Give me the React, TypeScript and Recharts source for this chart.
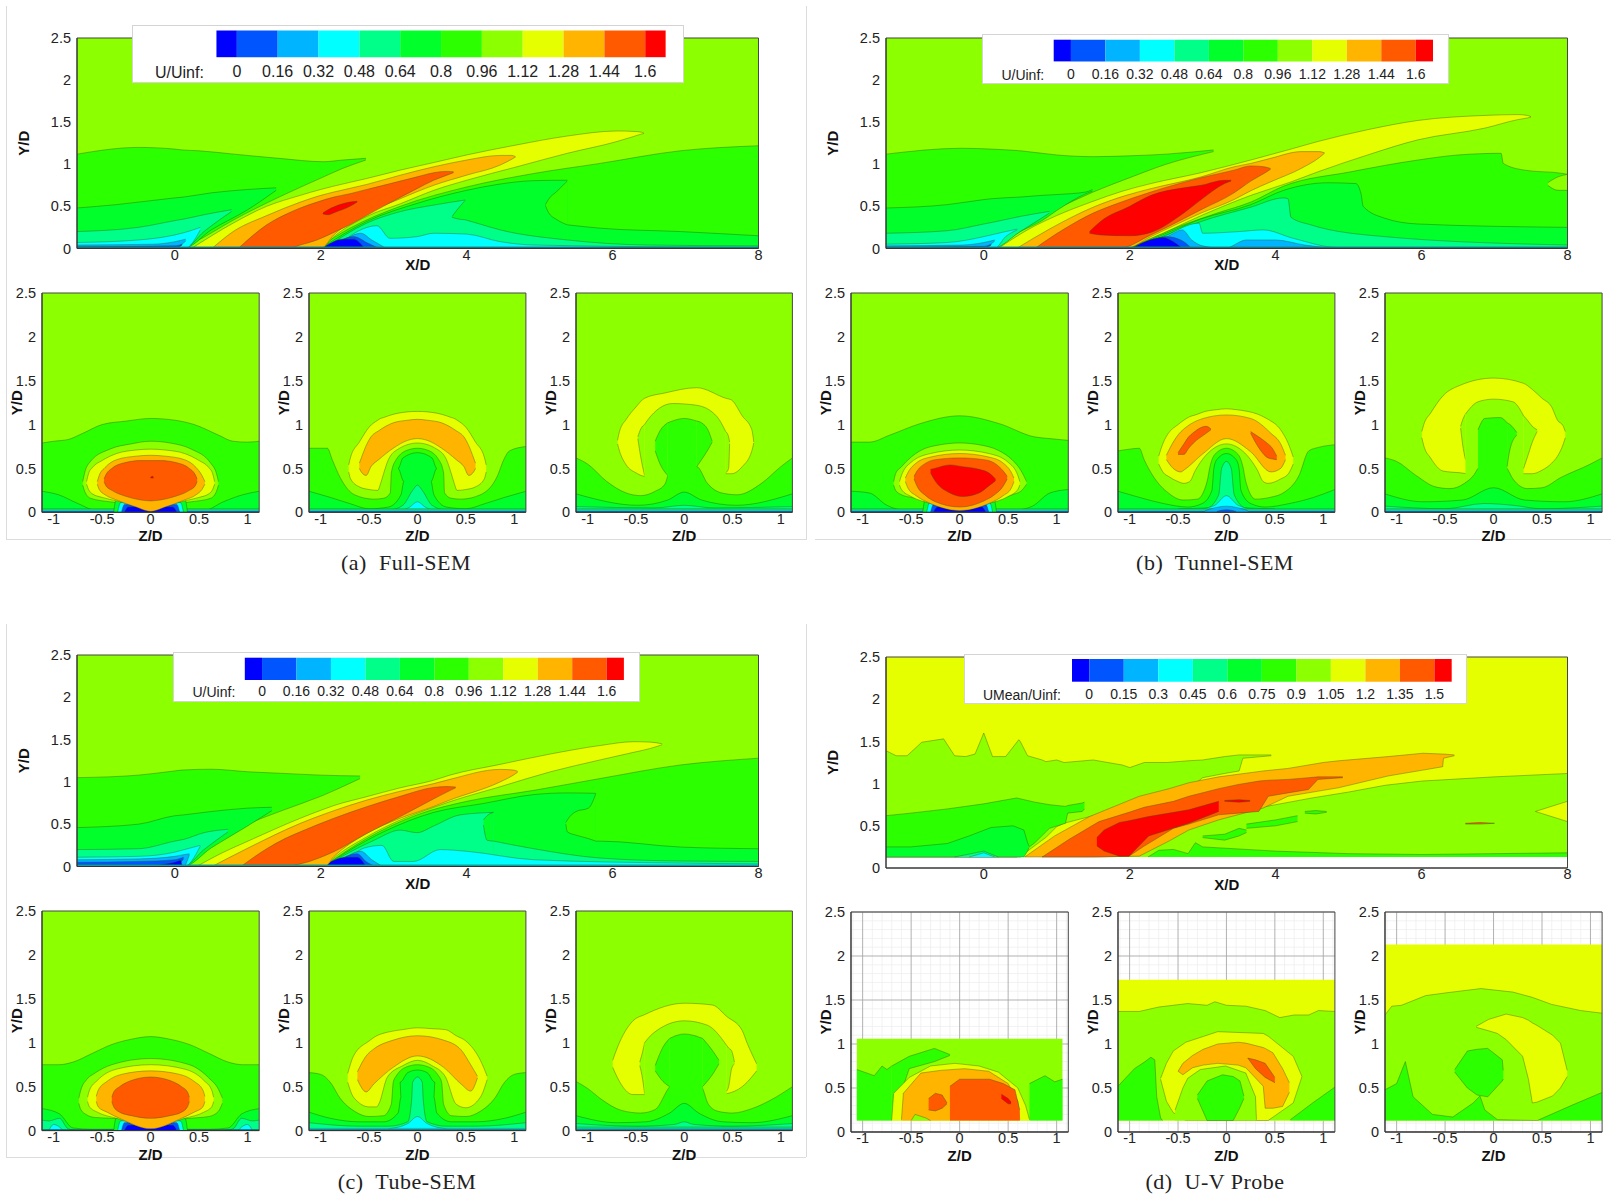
import { AreaChart, Area, XAxis, YAxis, CartesianGrid, ReferenceArea } from "recharts";

type Pt = [number, number] | [number, number, number];
type Band = { level: number; pts: Pt[] };
const B = (level: number, pts: Pt[]): Band => ({ level, pts });

const bandColors = ["#0000ff", "#0055ff", "#00b4ff", "#00ffff", "#00ff88", "#00ff2b", "#2bff00", "#8cff00", "#e6ff00", "#ffb400", "#ff5a00", "#ff0000"];
const uLevels = [0, 0.16, 0.32, 0.48, 0.64, 0.8, 0.96, 1.12, 1.28, 1.44, 1.6];
const meanLevels = [0, 0.15, 0.3, 0.45, 0.6, 0.75, 0.9, 1.05, 1.2, 1.35, 1.5];

const xTicks = [0, 2, 4, 6, 8];
const xMinor = [-1.2, -0.8, -0.4, 0.4, 0.8, 1.2, 1.6, 2.4, 2.8, 3.2, 3.6, 4.4, 4.8, 5.2, 5.6, 6.4, 6.8, 7.2, 7.6];
const zTicks = [-1, -0.5, 0, 0.5, 1];
const zMinor = [-1.1, -0.9, -0.8, -0.7, -0.6, -0.4, -0.3, -0.2, -0.1, 0.1, 0.2, 0.3, 0.4, 0.6, 0.7, 0.8, 0.9, 1.1];
const yTicks = [0, 0.5, 1, 1.5, 2, 2.5];
const yMinor = [0.1, 0.2, 0.3, 0.4, 0.6, 0.7, 0.8, 0.9, 1.1, 1.2, 1.3, 1.4, 1.6, 1.7, 1.8, 1.9, 2.1, 2.2, 2.3, 2.4];

const floorMain: Band[] = [B(3, [[-1.34, 0.02], [8, 0.02]]), B(1, [[-1.34, 0.01], [8, 0.01]])];
const floorSide: Band[] = [B(4, [[-1.12, 0.04], [1.12, 0.04]]), B(3, [[-1.12, 0.025], [1.12, 0.025]]), B(1, [[-1.12, 0.012], [1.12, 0.012]])];
const wedge: Band[] = [
  B(5, [[-0.38, 0], [-0.36, 0.13], [-0.3, 0.16], [0, 0.16], [0.3, 0.16], [0.36, 0.13], [0.38, 0]]),
  B(3, [[-0.34, 0], [-0.31, 0.11], [0, 0.13], [0.31, 0.11], [0.34, 0]]),
  B(1, [[-0.3, 0], [-0.27, 0.09], [0, 0.1], [0.27, 0.09], [0.3, 0]]),
  B(0, [[-0.27, 0], [-0.23, 0.06], [0, 0.07], [0.23, 0.06], [0.27, 0]]),
];

const fullMain: Band[] = [
  B(7, [[-1.34, 2.5], [8, 2.5]]),
  B(6, [[-1.34, 1.12], [-0.5, 1.2], [0, 1.18], [0.1, 0, 1.17], [0.33, 0.1, 1.16], [0.81, 0.34, 1.12], [1.43, 0.61, 1.07], [2.04, 0.85, 1.03], [2.3, 0.95, 1.05], [2.62, 1.05, 1.07]]),
  B(5, [[-1.34, 0.48], [-0.8, 0.52], [0, 0.6], [0.12, 0, 0.61], [0.5, 0.22, 0.66], [1, 0.46, 0.7], [1.39, 0.69, 0.72]]),
  B(4, [[-1.34, 0.2], [-0.5, 0.25], [0, 0.33], [0.13, 0, 0.35], [0.4, 0.2, 0.4], [0.78, 0.44, 0.46]]),
  B(3, [[-1.34, 0.07], [-0.5, 0.1], [0, 0.16], [0.14, 0, 0.19], [0.35, 0.22, 0.25]]),
  B(2, [[-1.34, 0.04], [-0.3, 0.05], [0, 0.08], [0.15, 0.09, 0.11]]),
  B(1, [[-1.34, 0.02], [0, 0.03], [0.1, 0.04, 0.05]]),
  B(6, [[1.95, 0], [2.4, 0.24], [3.09, 0.5], [4, 0.73], [4.92, 0.89], [5.83, 1.01], [6.93, 1.16], [8, 1.22]]),
  B(5, [[2, 0], [2.63, 0.32], [3.32, 0.535], [4, 0.69], [4.46, 0.765], [4.92, 0.805], [5.38, 0.81]]),
  B(5, [[5.38, 0.28], [5.83, 0.24], [6.93, 0.2], [8, 0.15]]),
  B(6, [[5.08, 0.51, 0.52], [5.12, 0.43, 0.58], [5.24, 0.34, 0.68], [5.38, 0.28, 0.8]]),
  B(4, [[2.05, 0], [2.63, 0.3], [3.09, 0.437], [3.55, 0.515], [3.98, 0.575]]),
  B(4, [[3.98, 0.34], [4.14, 0.3], [4.46, 0.22], [5.38, 0.1], [6.47, 0.04], [8, 0.03]]),
  B(5, [[3.8, 0.37, 0.38], [3.88, 0.35, 0.47], [3.98, 0.34, 0.57]]),
  B(3, [[2.2, 0], [2.5, 0.2], [2.77, 0.27], [2.95, 0.12], [3.32, 0.14], [3.55, 0.18], [4, 0.17], [4.46, 0.08], [4.92, 0.04], [8, 0.01]]),
  B(2, [[2.2, 0], [2.55, 0.18], [2.7, 0.1], [2.9, 0]]),
  B(1, [[2.1, 0], [2.45, 0.14], [2.65, 0.06], [2.8, 0]]),
  B(0, [[2.02, 0], [2.3, 0.11], [2.45, 0.11], [2.6, 0]]),
  B(8, [[0.23, 0, 0], [0.8, 0, 0.3], [1.26, 0, 0.5], [1.72, 0, 0.63], [2, 0, 0.7], [2.18, 0.14, 0.74], [2.63, 0.38, 0.83], [3.09, 0.53, 0.93], [3.55, 0.69, 1.02], [4, 0.81, 1.11], [4.69, 0.97, 1.23], [5.38, 1.13, 1.335], [6.06, 1.27, 1.395], [6.29, 1.33, 1.39], [6.4, 1.36, 1.38], [6.43, 1.365, 1.37]]),
  B(9, [[0.51, 0, 0], [0.8, 0, 0.2], [1.26, 0, 0.39], [1.72, 0, 0.55], [2, 0, 0.63], [2.18, 0.16, 0.67], [2.63, 0.417, 0.76], [3.09, 0.59, 0.87], [3.55, 0.75, 0.97], [4, 0.87, 1.05], [4.46, 0.99, 1.105], [4.62, 1.06, 1.105], [4.67, 1.085, 1.09]]),
  B(10, [[0.87, 0, 0], [1.26, 0, 0.28], [1.56, 0, 0.42], [1.72, 0.04, 0.48], [1.95, 0.1, 0.55], [2.18, 0.19, 0.61], [2.4, 0.28, 0.65], [2.63, 0.39, 0.7], [2.86, 0.5, 0.75], [3.32, 0.71, 0.85], [3.55, 0.81, 0.9], [3.73, 0.87, 0.915], [3.82, 0.9, 0.91]]),
  B(11, [[2.03, 0.41, 0.42], [2.1, 0.4, 0.46], [2.2, 0.43, 0.5], [2.4, 0.5, 0.55], [2.5, 0.55, 0.56]]),
  ...floorMain,
];

const fullZ1: Band[] = [
  B(7, [[-1.12, 2.5], [1.12, 2.5]]),
  B(6, [[-1.12, 0.79], [-1, 0.81], [-0.85, 0.83], [-0.7, 0.9], [-0.5, 1], [-0.25, 1.04], [0, 1.07], [0.25, 1.05], [0.45, 1], [0.7, 0.88], [0.85, 0.81], [1, 0.8], [1.12, 0.81]]),
  B(5, [[-1.12, 0.24], [-0.95, 0.2], [-0.75, 0.1], [-0.55, 0.02], [0.55, 0.02], [0.75, 0.12], [0.95, 0.2], [1.12, 0.24]]),
  B(7, [[-0.7, 0.31, 0.35], [-0.68, 0.24, 0.45], [-0.62, 0.16, 0.58], [-0.42, 0.12, 0.72], [-0.2, 0.1, 0.78], [0, 0.1, 0.81], [0.2, 0.1, 0.79], [0.42, 0.12, 0.72], [0.62, 0.16, 0.56], [0.68, 0.24, 0.44], [0.7, 0.31, 0.35]]),
  ...floorSide,
  ...wedge,
  B(8, [[-0.66, 0.32, 0.35], [-0.64, 0.26, 0.44], [-0.6, 0.21, 0.51], [-0.5, 0.17, 0.59], [-0.35, 0.13, 0.67], [-0.15, 0.07, 0.71], [0, 0.02, 0.72], [0.15, 0.07, 0.71], [0.35, 0.13, 0.67], [0.5, 0.17, 0.59], [0.6, 0.21, 0.51], [0.64, 0.26, 0.44], [0.66, 0.32, 0.35]]),
  B(9, [[-0.55, 0.32, 0.35], [-0.53, 0.26, 0.42], [-0.47, 0.2, 0.51], [-0.35, 0.14, 0.6], [-0.15, 0.06, 0.64], [0, 0.01, 0.65], [0.15, 0.06, 0.64], [0.35, 0.14, 0.6], [0.47, 0.2, 0.51], [0.53, 0.26, 0.42], [0.56, 0.32, 0.35]]),
  B(10, [[-0.48, 0.35, 0.38], [-0.46, 0.3, 0.43], [-0.4, 0.25, 0.5], [-0.25, 0.18, 0.57], [-0.1, 0.14, 0.59], [0, 0.13, 0.59], [0.1, 0.14, 0.59], [0.25, 0.18, 0.57], [0.4, 0.25, 0.5], [0.46, 0.3, 0.43], [0.48, 0.35, 0.38]]),
  B(11, [[0, 0.39, 0.4], [0.02, 0.39, 0.41], [0.03, 0.39, 0.4]]),
];

const fullZ2: Band[] = [
  B(7, [[-1.12, 2.5], [1.12, 2.5]]),
  B(8, [[-0.71, 0.46, 0.54], [-0.69, 0.38, 0.63], [-0.6, 0.29, 0.8], [-0.5, 0.26, 0.97], [-0.41, 0.25, 1.05], [-0.38, 0.33, 1.07], [-0.35, 0.44, 1.08], [-0.3, 0.6, 1.1], [-0.2, 0.72, 1.13], [0, 0.79, 1.15], [0.2, 0.72, 1.13], [0.3, 0.6, 1.1], [0.35, 0.44, 1.08], [0.38, 0.33, 1.07], [0.41, 0.25, 1.05], [0.5, 0.26, 0.97], [0.6, 0.29, 0.8], [0.69, 0.38, 0.63], [0.71, 0.46, 0.54]]),
  B(9, [[-0.6, 0.5, 0.56], [-0.58, 0.46, 0.62], [-0.53, 0.42, 0.76], [-0.48, 0.52, 0.86], [-0.4, 0.6, 0.93], [-0.25, 0.73, 1.02], [-0.1, 0.82, 1.05], [0, 0.84, 1.06], [0.1, 0.82, 1.05], [0.25, 0.73, 1.02], [0.4, 0.6, 0.93], [0.48, 0.52, 0.86], [0.53, 0.42, 0.76], [0.58, 0.46, 0.62], [0.6, 0.5, 0.56]]),
  B(6, [[-1.12, 0.73], [-0.93, 0.73], [-0.88, 0.6], [-0.8, 0.4], [-0.65, 0.2], [-0.45, 0.15], [-0.35, 0.16], [-0.28, 0.22], [-0.27, 0.45], [-0.22, 0.6], [-0.1, 0.71], [0, 0.73], [0.1, 0.71], [0.22, 0.6], [0.27, 0.45], [0.28, 0.22], [0.35, 0.16], [0.45, 0.15], [0.65, 0.2], [0.82, 0.4], [0.9, 0.62], [0.95, 0.7], [1.12, 0.75]]),
  B(5, [[-1.12, 0.24], [-0.9, 0.17], [-0.7, 0.1], [-0.5, 0.04], [-0.3, 0.06], [-0.17, 0.2], [-0.14, 0.35], [-0.2, 0.5], [-0.15, 0.62], [0, 0.68], [0.15, 0.62], [0.2, 0.5], [0.14, 0.35], [0.17, 0.2], [0.3, 0.06], [0.5, 0.04], [0.7, 0.1], [0.9, 0.17], [1.12, 0.24]]),
  B(4, [[-0.3, 0.02], [-0.15, 0.08], [-0.05, 0.25], [0, 0.31], [0.05, 0.25], [0.15, 0.08], [0.3, 0.02]]),
  B(3, [[-0.2, 0], [-0.08, 0.06], [0, 0.12], [0.08, 0.06], [0.2, 0]]),
  ...floorSide,
];

const fullZ3: Band[] = [
  B(7, [[-1.12, 2.5], [1.12, 2.5]]),
  B(8, [[-0.69, 0.78, 0.82], [-0.67, 0.7, 0.92], [-0.6, 0.54, 1.06], [-0.5, 0.45, 1.2], [-0.41, 0.41, 1.3], [-0.2, 0.4, 1.36], [0.13, 0.4, 1.42], [0.43, 0.44, 1.3], [0.49, 0.44, 1.28], [0.6, 0.52, 1.1], [0.7, 0.7, 0.94], [0.72, 0.79, 0.8]]),
  B(7, [[-0.48, 0.84, 0.86], [-0.45, 0.63, 0.95], [-0.41, 0.42, 1]]),
  B(7, [[-0.41, 1], [-0.38, 1.05], [-0.12, 1.24], [0.13, 1.22], [0.34, 1.09], [0.43, 0.92]]),
  B(7, [[0.43, 0.45, 0.92], [0.46, 0.5, 0.86], [0.47, 0.78, 0.8]]),
  B(6, [[-1.12, 0.62], [-1, 0.55], [-0.8, 0.35], [-0.6, 0.22], [-0.45, 0.19], [-0.3, 0.24], [-0.2, 0.32], [-0.15, 0.46], [0, 0.5], [0.13, 0.52], [0.24, 0.33], [0.39, 0.22], [0.55, 0.2], [0.8, 0.33], [1, 0.52], [1.12, 0.62]]),
  B(6, [[-0.3, 0.7, 0.81], [-0.25, 0.55, 0.93], [-0.17, 0.42, 1.02]]),
  B(6, [[-0.17, 1.02], [0, 1.07], [0.13, 1.04]]),
  B(6, [[0.13, 0.52, 1.04], [0.18, 0.6, 1.02], [0.25, 0.72, 0.93], [0.29, 0.8, 0.81]]),
  B(5, [[-1.12, 0.21], [-0.48, 0.08], [-0.17, 0.14], [0, 0.23], [0.18, 0.14], [0.54, 0.08], [1.12, 0.21]]),
  B(4, [[-1.12, 0.065], [-0.3, 0.05], [0, 0.08], [0.3, 0.05], [1.12, 0.065]]),
  ...floorSide,
];

const tunnelMain: Band[] = [
  B(7, [[-1.34, 2.5], [8, 2.5]]),
  B(6, [[-1.34, 1.12], [-0.3, 1.19], [0.1, 0, 1.18], [0.5, 0.25, 1.16], [1, 0.47, 1.11], [1.5, 0.67, 1.09], [2, 0.84, 1.1], [2.5, 1, 1.12], [3.15, 1.15, 1.17]]),
  B(5, [[-1.34, 0.48], [-0.5, 0.52], [0, 0.58], [0.1, 0, 0.59], [0.5, 0.2, 0.61], [0.8, 0.33, 0.63], [1, 0.45, 0.64], [1.4, 0.65, 0.67], [1.49, 0.68, 0.7]]),
  B(4, [[-1.34, 0.18], [-0.5, 0.21], [0, 0.29], [0.12, 0, 0.31], [0.5, 0.2, 0.38], [0.9, 0.42, 0.44]]),
  B(3, [[-1.34, 0.05], [-0.5, 0.07], [0, 0.14], [0.15, 0, 0.17], [0.3, 0.14, 0.2], [0.46, 0.22, 0.23]]),
  B(2, [[-1.34, 0.03], [-0.3, 0.04], [0, 0.07], [0.15, 0.09, 0.1]]),
  B(1, [[-1.34, 0.015], [0, 0.025], [0.1, 0.04, 0.05]]),
  B(6, [[2, 0], [2.5, 0.2], [3.2, 0.42], [3.66, 0.55], [4.11, 0.74], [5.03, 0.91], [5.95, 1.05], [6.5, 1.11], [7.09, 1.13], [7.12, 1.01], [7.41, 0.93], [7.94, 0.89], [8, 0.88]]),
  B(7, [[7.73, 0.75, 0.78], [7.87, 0.69, 0.85], [8, 0.69, 0.88]]),
  B(5, [[2, 0], [2.5, 0.18], [2.98, 0.35], [3.66, 0.52], [4.11, 0.69], [4.72, 0.78], [5.1, 0.77], [5.17, 0.65], [5.2, 0.5], [5.49, 0.36], [5.95, 0.29], [8, 0.25]]),
  B(4, [[2.05, 0], [2.5, 0.16], [2.98, 0.32], [3.66, 0.49], [4.11, 0.6], [4.17, 0.59], [4.21, 0.37], [4.48, 0.28], [5.49, 0.14], [8, 0.04]]),
  B(3, [[2.2, 0], [2.5, 0.15], [2.95, 0.3], [3, 0.18], [3.5, 0.2], [3.83, 0.22], [4.24, 0.12], [4.86, 0.01], [8, 0.01]]),
  B(2, [[2.3, 0], [2.6, 0.18], [2.72, 0.22], [2.85, 0.1], [3, 0.03], [3.3, 0], [3.6, 0.1], [4, 0.1], [4.4, 0.04], [4.8, 0]]),
  B(1, [[2.15, 0], [2.5, 0.14], [2.7, 0.1], [2.85, 0]]),
  B(0, [[2.02, 0], [2.45, 0.13], [2.6, 0.08], [2.72, 0]]),
  B(8, [[0.2, 0, 0], [0.6, 0, 0.22], [1, 0, 0.39], [1.5, 0, 0.56], [1.9, 0, 0.68], [2.29, 0.12, 0.77], [2.98, 0.39, 0.9], [3.66, 0.63, 1.05], [4.21, 0.79, 1.18], [4.58, 0.91, 1.27], [5.26, 1.11, 1.41], [5.95, 1.29, 1.52], [6.87, 1.43, 1.58], [7.32, 1.53, 1.59], [7.45, 1.55, 1.58], [7.5, 1.56, 1.565]]),
  B(9, [[0.45, 0, 0], [0.9, 0, 0.23], [1.5, 0, 0.49], [1.95, 0, 0.63], [2.29, 0.14, 0.71], [2.98, 0.42, 0.85], [3.43, 0.58, 0.97], [3.66, 0.685, 1.01], [3.93, 0.79, 1.07], [4.35, 0.95, 1.15], [4.6, 1.08, 1.15], [4.67, 1.13, 1.135]]),
  B(10, [[0.7, 0, 0], [1.1, 0, 0.23], [1.5, 0, 0.42], [1.85, 0, 0.54], [2.29, 0.16, 0.67], [2.98, 0.46, 0.84], [3.43, 0.66, 0.93], [3.66, 0.8, 0.98], [3.84, 0.89, 0.97], [3.93, 0.94, 0.95]]),
  B(11, [[1.45, 0.18, 0.2], [1.6, 0.16, 0.32], [2, 0.15, 0.5], [2.29, 0.19, 0.63], [2.74, 0.42, 0.72], [2.98, 0.58, 0.75], [3.3, 0.77, 0.81], [3.39, 0.8, 0.81]]),
  ...floorMain,
];

const tunnelZ1: Band[] = [
  B(7, [[-1.12, 2.5], [1.12, 2.5]]),
  B(6, [[-1.12, 0.8], [-0.93, 0.8], [-0.72, 0.88], [-0.41, 1.01], [0, 1.1], [0.41, 1.01], [0.77, 0.86], [0.93, 0.84], [1.12, 0.82]]),
  B(5, [[-1.12, 0.24], [-0.93, 0.22], [-0.75, 0.08], [-0.6, 0.03], [0.6, 0.03], [0.75, 0.07], [0.93, 0.22], [1.12, 0.26]]),
  B(7, [[-0.68, 0.31, 0.35], [-0.66, 0.25, 0.44], [-0.6, 0.2, 0.52], [-0.5, 0.17, 0.63], [-0.41, 0.15, 0.7], [-0.2, 0.12, 0.77], [0, 0.1, 0.79], [0.2, 0.12, 0.77], [0.41, 0.15, 0.7], [0.54, 0.2, 0.6], [0.63, 0.24, 0.48], [0.69, 0.32, 0.35]]),
  ...floorSide,
  ...wedge,
  B(8, [[-0.62, 0.31, 0.35], [-0.6, 0.26, 0.42], [-0.5, 0.18, 0.57], [-0.3, 0.1, 0.67], [0, 0.02, 0.71], [0.3, 0.1, 0.67], [0.5, 0.18, 0.57], [0.6, 0.26, 0.42], [0.62, 0.31, 0.35]]),
  B(9, [[-0.56, 0.35, 0.39], [-0.53, 0.27, 0.46], [-0.45, 0.19, 0.56], [-0.3, 0.1, 0.63], [0, 0.02, 0.67], [0.3, 0.1, 0.63], [0.45, 0.19, 0.56], [0.53, 0.27, 0.46], [0.56, 0.35, 0.39]]),
  B(10, [[-0.47, 0.38, 0.41], [-0.44, 0.3, 0.47], [-0.35, 0.19, 0.56], [-0.25, 0.12, 0.6], [0, 0.06, 0.62], [0.25, 0.13, 0.6], [0.36, 0.2, 0.56], [0.45, 0.3, 0.47], [0.49, 0.38, 0.41]]),
  B(11, [[-0.3, 0.45, 0.49], [-0.26, 0.37, 0.5], [-0.1, 0.22, 0.54], [0.03, 0.18, 0.52], [0.2, 0.22, 0.49], [0.3, 0.3, 0.45], [0.37, 0.36, 0.38]]),
];

const tunnelZ2: Band[] = [
  B(7, [[-1.12, 2.5], [1.12, 2.5]]),
  B(8, [[-0.7, 0.55, 0.64], [-0.65, 0.45, 0.8], [-0.6, 0.41, 0.9], [-0.5, 0.35, 1], [-0.44, 0.33, 1.05], [-0.38, 0.35, 1.09], [-0.32, 0.48, 1.11], [-0.22, 0.64, 1.15], [-0.1, 0.75, 1.17], [0, 0.78, 1.18], [0.1, 0.75, 1.17], [0.22, 0.64, 1.15], [0.32, 0.48, 1.12], [0.38, 0.35, 1.09], [0.43, 0.33, 1.06], [0.56, 0.38, 0.94], [0.64, 0.44, 0.78], [0.69, 0.55, 0.63]]),
  B(9, [[-0.62, 0.6, 0.65], [-0.55, 0.5, 0.8], [-0.47, 0.46, 0.92], [-0.44, 0.48, 0.95], [-0.24, 0.67, 1.07], [0, 0.84, 1.11], [0.25, 0.69, 1.07], [0.46, 0.46, 0.9], [0.56, 0.5, 0.78], [0.61, 0.6, 0.65]]),
  B(10, [[-0.5, 0.66, 0.68], [-0.44, 0.66, 0.78], [-0.39, 0.73, 0.86], [-0.34, 0.79, 0.91], [-0.21, 0.9, 0.98], [-0.16, 0.94, 0.95]]),
  B(10, [[0.25, 0.9, 0.92], [0.32, 0.76, 0.87], [0.43, 0.62, 0.78], [0.46, 0.61, 0.75], [0.52, 0.6, 0.64]]),
  B(6, [[-1.12, 0.7], [-1, 0.72], [-0.9, 0.73], [-0.85, 0.6], [-0.75, 0.4], [-0.6, 0.22], [-0.45, 0.14], [-0.3, 0.15], [-0.2, 0.35], [-0.17, 0.52], [-0.12, 0.66], [0, 0.73], [0.12, 0.66], [0.17, 0.52], [0.2, 0.35], [0.3, 0.15], [0.45, 0.17], [0.6, 0.23], [0.75, 0.42], [0.85, 0.7], [0.95, 0.74], [1.12, 0.77]]),
  B(5, [[-1.12, 0.24], [-0.9, 0.17], [-0.65, 0.1], [-0.4, 0.06], [-0.25, 0.1], [-0.15, 0.25], [-0.13, 0.5], [-0.1, 0.6], [0, 0.67], [0.1, 0.6], [0.13, 0.5], [0.15, 0.25], [0.25, 0.1], [0.4, 0.06], [0.65, 0.1], [0.9, 0.17], [1.12, 0.26]]),
  B(4, [[-0.5, 0.04], [-0.2, 0.05], [-0.08, 0.2], [-0.05, 0.5], [0, 0.58], [0.05, 0.5], [0.08, 0.2], [0.2, 0.05], [0.5, 0.04]]),
  B(3, [[-0.3, 0.03], [-0.12, 0.08], [0, 0.19], [0.12, 0.08], [0.3, 0.03]]),
  ...floorSide,
  B(2, [[-0.22, 0.02], [0, 0.07], [0.22, 0.02]]),
  B(1, [[-0.1, 0.01], [0, 0.03], [0.1, 0.01]]),
];

const tunnelZ3: Band[] = [
  B(7, [[-1.12, 2.5], [1.12, 2.5]]),
  B(8, [[-0.74, 0.85, 0.92], [-0.72, 0.76, 1], [-0.65, 0.62, 1.13], [-0.52, 0.47, 1.33], [-0.34, 0.45, 1.45], [0, 0.4, 1.53], [0.31, 0.44, 1.47], [0.4, 0.44, 1.4], [0.5, 0.48, 1.3], [0.6, 0.56, 1.2], [0.66, 0.64, 1.05], [0.72, 0.78, 0.98], [0.74, 0.85, 0.92]]),
  B(7, [[-0.34, 0.96, 0.98], [-0.32, 0.78, 1.05], [-0.29, 0.6, 1.12]]),
  B(7, [[-0.29, 1.12], [-0.16, 1.26], [0, 1.29], [0.2, 1.26], [0.31, 1.1]]),
  B(7, [[0.31, 0.5, 1.1], [0.35, 0.63, 1.05], [0.4, 0.8, 0.98], [0.45, 0.92, 0.94]]),
  B(6, [[-1.12, 0.62], [-1, 0.58], [-0.8, 0.42], [-0.6, 0.29], [-0.45, 0.27], [-0.3, 0.33], [-0.2, 0.43], [-0.16, 0.5], [0, 0.6], [0.14, 0.5], [0.2, 0.38], [0.35, 0.27], [0.5, 0.28], [0.7, 0.4], [1, 0.55], [1.12, 0.62]]),
  B(6, [[-0.16, 0.94], [-0.09, 1.07], [0.07, 1.08], [0.14, 1.02]]),
  B(6, [[0.14, 0.52, 1.02], [0.17, 0.72, 1], [0.24, 0.88, 0.91]]),
  B(5, [[-1.12, 0.21], [-0.73, 0.12], [-0.32, 0.14], [0, 0.28], [0.32, 0.14], [0.73, 0.12], [1.12, 0.21]]),
  B(4, [[-1.12, 0.07], [-0.5, 0.04], [-0.1, 0.1], [0.2, 0.08], [0.5, 0.04], [1.12, 0.07]]),
  ...floorSide,
];

const tubeMain: Band[] = [
  B(7, [[-1.34, 2.5], [8, 2.5]]),
  B(6, [[-1.34, 1.05], [-0.5, 1.08], [0, 1.13], [0.1, 0, 1.14], [0.5, 0.27, 1.15], [1, 0.5, 1.12], [1.5, 0.67, 1.1], [2, 0.83, 1.08], [2.54, 1.04, 1.07]]),
  B(5, [[-1.34, 0.46], [-0.5, 0.5], [0, 0.6], [0.12, 0, 0.61], [0.5, 0.22, 0.65], [1, 0.48, 0.69], [1.33, 0.66, 0.7]]),
  B(4, [[-1.34, 0.2], [-0.5, 0.21], [0, 0.3], [0.12, 0, 0.32], [0.4, 0.2, 0.4], [0.73, 0.41, 0.44]]),
  B(3, [[-1.34, 0.11], [-0.5, 0.12], [0, 0.17], [0.13, 0, 0.2], [0.35, 0.24, 0.25]]),
  B(2, [[-1.34, 0.08], [-0.5, 0.09], [0, 0.12], [0.12, 0, 0.14], [0.2, 0.14, 0.15]]),
  B(1, [[-1.34, 0.05], [-0.5, 0.06], [0, 0.08], [0.12, 0.09, 0.11]]),
  B(6, [[2.04, 0], [2.63, 0.33], [3.32, 0.61], [4, 0.77], [4.92, 0.9], [5.83, 1.04], [6.93, 1.2], [8, 1.28]]),
  B(5, [[2.04, 0], [2.86, 0.41], [3.55, 0.64], [4.23, 0.745], [4.92, 0.85], [5.38, 0.87], [5.77, 0.865]]),
  B(5, [[5.77, 0.3], [5.83, 0.3], [6.93, 0.23], [8, 0.21]]),
  B(6, [[5.36, 0.5, 0.52], [5.38, 0.41, 0.55], [5.5, 0.37, 0.65], [5.67, 0.33, 0.69], [5.77, 0.3, 0.86]]),
  B(4, [[2.05, 0], [2.73, 0.31], [3.09, 0.43], [3.32, 0.4], [3.55, 0.48], [3.91, 0.61], [4.37, 0.64]]),
  B(4, [[4.37, 0.3], [4.92, 0.21], [5.83, 0.1], [6.93, 0.065], [8, 0.06]]),
  B(5, [[4.23, 0.49, 0.55], [4.28, 0.31, 0.6], [4.37, 0.3, 0.64]]),
  B(3, [[2.3, 0], [2.6, 0.22], [2.84, 0.25], [3, 0.06], [3.27, 0.06], [3.64, 0.2], [4, 0.18], [4.92, 0.08], [6.93, 0.04], [8, 0.03]]),
  B(2, [[2.2, 0], [2.55, 0.18], [2.7, 0.08], [2.85, 0]]),
  B(1, [[2.12, 0], [2.5, 0.15], [2.62, 0.06], [2.75, 0]]),
  B(0, [[2.02, 0], [2.35, 0.11], [2.5, 0.11], [2.62, 0]]),
  B(0, [[-0.5, 0], [-0.2, 0.02], [0, 0.05], [0.08, 0.07], [0.1, 0]]),
  B(8, [[0.3, 0, 0], [0.6, 0, 0.14], [1.03, 0, 0.31], [1.72, 0, 0.57], [2.05, 0, 0.68], [2.18, 0.1, 0.72], [2.63, 0.35, 0.825], [3.09, 0.55, 0.93], [3.55, 0.7, 1.02], [3.77, 0.766, 1.08], [4.46, 0.943, 1.207], [5.15, 1.12, 1.33], [5.83, 1.26, 1.43], [6.29, 1.35, 1.475], [6.52, 1.396, 1.47], [6.68, 1.44, 1.45]]),
  B(9, [[0.51, 0, 0], [1.03, 0, 0.23], [1.72, 0, 0.51], [2.05, 0, 0.62], [2.18, 0.116, 0.66], [2.63, 0.39, 0.785], [3.09, 0.57, 0.89], [3.55, 0.71, 0.98], [3.77, 0.785, 1.03], [4.46, 1, 1.148], [4.64, 1.08, 1.14], [4.7, 1.115, 1.125]]),
  B(10, [[0.906, 0, 0], [1.26, 0, 0.21], [1.51, 0, 0.33], [1.72, 0.03, 0.41], [2.18, 0.175, 0.57], [2.63, 0.39, 0.707], [3.09, 0.59, 0.83], [3.55, 0.8, 0.935], [3.73, 0.88, 0.945], [3.85, 0.93, 0.94]]),
  ...floorMain,
];

const tubeZ1: Band[] = [
  B(7, [[-1.12, 2.5], [1.12, 2.5]]),
  B(6, [[-1.12, 0.75], [-0.95, 0.75], [-0.8, 0.78], [-0.6, 0.88], [-0.4, 0.98], [-0.2, 1.04], [0, 1.07], [0.2, 1.04], [0.4, 0.98], [0.6, 0.88], [0.8, 0.78], [0.95, 0.75], [1.12, 0.75]]),
  B(5, [[-1.12, 0.25], [-0.94, 0.19], [-0.8, 0.03], [-0.6, 0.015], [0.6, 0.015], [0.8, 0.03], [0.94, 0.19], [1.12, 0.25]]),
  B(4, [[-1.12, 0.12], [-1.05, 0.11], [-0.94, 0.14], [-0.85, 0.02], [-0.75, 0]]),
  B(4, [[0.75, 0], [0.85, 0.02], [0.94, 0.14], [1.05, 0.11], [1.12, 0.12]]),
  B(3, [[-1.05, 0], [-1, 0.07], [-0.95, 0.05], [-0.9, 0]]),
  B(3, [[0.9, 0], [0.95, 0.05], [1, 0.07], [1.05, 0]]),
  B(7, [[-0.74, 0.31, 0.37], [-0.72, 0.24, 0.46], [-0.66, 0.18, 0.58], [-0.58, 0.15, 0.65], [-0.4, 0.14, 0.75], [0, 0.1, 0.82], [0.4, 0.14, 0.75], [0.6, 0.16, 0.6], [0.7, 0.22, 0.47], [0.74, 0.31, 0.37]]),
  B(1, [[-1.12, 0.012], [1.12, 0.012]]),
  ...wedge,
  B(8, [[-0.65, 0.33, 0.38], [-0.63, 0.27, 0.46], [-0.55, 0.21, 0.57], [-0.35, 0.14, 0.7], [0, 0.03, 0.75], [0.35, 0.14, 0.7], [0.55, 0.21, 0.57], [0.63, 0.27, 0.46], [0.65, 0.33, 0.38]]),
  B(9, [[-0.56, 0.33, 0.39], [-0.54, 0.27, 0.46], [-0.45, 0.21, 0.56], [-0.3, 0.13, 0.64], [0, 0.02, 0.68], [0.3, 0.13, 0.64], [0.45, 0.21, 0.56], [0.54, 0.27, 0.46], [0.56, 0.33, 0.39]]),
  B(10, [[-0.4, 0.33, 0.38], [-0.38, 0.27, 0.44], [-0.32, 0.21, 0.5], [-0.2, 0.17, 0.57], [0, 0.14, 0.61], [0.2, 0.17, 0.57], [0.32, 0.21, 0.5], [0.38, 0.27, 0.44], [0.4, 0.33, 0.38]]),
];

const tubeZ2: Band[] = [
  B(7, [[-1.12, 2.5], [1.12, 2.5]]),
  B(8, [[-0.72, 0.55, 0.65], [-0.66, 0.38, 0.85], [-0.5, 0.27, 1.02], [-0.42, 0.27, 1.08], [-0.4, 0.3, 1.09], [-0.31, 0.61, 1.12], [-0.15, 0.74, 1.15], [0, 0.8, 1.17], [0.15, 0.74, 1.16], [0.29, 0.61, 1.15], [0.4, 0.3, 1.08], [0.5, 0.26, 1.02], [0.65, 0.38, 0.8], [0.72, 0.58, 0.62]]),
  B(9, [[-0.62, 0.58, 0.67], [-0.53, 0.44, 0.85], [-0.45, 0.53, 0.93], [-0.25, 0.72, 1.03], [0, 0.85, 1.08], [0.27, 0.72, 1.03], [0.45, 0.53, 0.92], [0.55, 0.45, 0.75], [0.62, 0.6, 0.62]]),
  B(6, [[-1.12, 0.66], [-1, 0.64], [-0.9, 0.55], [-0.8, 0.37], [-0.65, 0.22], [-0.5, 0.16], [-0.35, 0.17], [-0.27, 0.3], [-0.25, 0.55], [-0.22, 0.62], [-0.1, 0.73], [0, 0.75], [0.1, 0.73], [0.22, 0.62], [0.25, 0.55], [0.27, 0.3], [0.35, 0.17], [0.5, 0.16], [0.65, 0.22], [0.8, 0.37], [0.9, 0.55], [1, 0.64], [1.12, 0.66]]),
  B(5, [[-1.12, 0.21], [-0.9, 0.14], [-0.6, 0.1], [-0.35, 0.1], [-0.2, 0.2], [-0.17, 0.38], [-0.18, 0.55], [-0.1, 0.66], [0, 0.69], [0.1, 0.66], [0.18, 0.55], [0.17, 0.38], [0.2, 0.2], [0.35, 0.1], [0.6, 0.1], [0.9, 0.14], [1.12, 0.21]]),
  B(4, [[-1.12, 0.09], [-0.6, 0.05], [-0.3, 0.05], [-0.1, 0.1], [-0.06, 0.35], [-0.05, 0.55], [0, 0.61], [0.05, 0.55], [0.06, 0.35], [0.1, 0.1], [0.3, 0.05], [0.6, 0.05], [1.12, 0.09]]),
  B(3, [[-0.3, 0.02], [-0.1, 0.08], [0, 0.16], [0.1, 0.08], [0.3, 0.02]]),
  B(3, [[-1.12, 0.025], [1.12, 0.025]]),
  B(1, [[-1.12, 0.012], [1.12, 0.012]]),
];

const tubeZ3: Band[] = [
  B(7, [[-1.12, 2.5], [1.12, 2.5]]),
  B(8, [[-0.74, 0.72, 0.8], [-0.69, 0.6, 0.95], [-0.53, 0.41, 1.25], [-0.41, 0.41, 1.32], [0, 0.4, 1.45], [0.29, 0.4, 1.43], [0.44, 0.42, 1.3], [0.6, 0.5, 1.14], [0.65, 0.55, 1], [0.75, 0.68, 0.76]]),
  B(7, [[-0.46, 0.74, 0.78], [-0.43, 0.58, 0.9], [-0.41, 0.42, 1]]),
  B(7, [[-0.41, 1], [-0.33, 1.1], [0, 1.25], [0.24, 1.2], [0.44, 0.97]]),
  B(7, [[0.44, 0.45, 0.97], [0.46, 0.5, 0.94], [0.49, 0.7, 0.91], [0.52, 0.76, 0.78]]),
  B(6, [[-1.12, 0.56], [-1, 0.48], [-0.85, 0.35], [-0.65, 0.23], [-0.45, 0.2], [-0.3, 0.24], [-0.15, 0.5], [0, 0.6], [0.18, 0.5], [0.25, 0.3], [0.35, 0.22], [0.5, 0.2], [0.7, 0.25], [0.9, 0.35], [1.12, 0.5]]),
  B(6, [[-0.3, 0.68, 0.74], [-0.22, 0.56, 0.95], [-0.15, 0.5, 1.05]]),
  B(6, [[-0.15, 1.05], [0, 1.1], [0.19, 1.05]]),
  B(6, [[0.19, 0.5, 1.05], [0.3, 0.65, 0.9], [0.36, 0.76, 0.8]]),
  B(5, [[-1.12, 0.17], [-0.7, 0.09], [-0.4, 0.1], [-0.15, 0.2], [0, 0.31], [0.15, 0.2], [0.4, 0.1], [0.7, 0.09], [1.12, 0.17]]),
  B(4, [[-1.12, 0.08], [-0.5, 0.05], [-0.1, 0.07], [0, 0.1], [0.1, 0.07], [0.5, 0.05], [1.12, 0.08]]),
  ...floorSide,
];

const probeMain: Band[] = [
  B(8, [[-1.34, 2.5], [8, 2.5]]),
  B(7, [[-1.34, 1.39], [-1.2, 1.33], [-1.05, 1.33], [-0.85, 1.49], [-0.55, 1.53], [-0.4, 1.33], [-0.25, 1.32], [-0.12, 1.35], [0, 1.6], [0.12, 1.32], [0.3, 1.32], [0.48, 1.52], [0.5, 0.13, 1.5], [0.6, 0.2, 1.33], [0.8, 0.33, 1.28], [0.85, 0.36, 1.26], [1, 0.49, 1.28], [1.1, 0.53, 1.25], [1.5, 0.62, 1.28], [1.9, 0.7, 1.22], [2, 0.72, 1.19], [2.2, 0.78, 1.25], [2.5, 0.85, 1.25], [2.8, 0.93, 1.27], [3, 1.07, 1.28], [3.3, 1.12, 1.32], [3.5, 1.15, 1.34], [3.55, 1.3, 1.34], [3.94, 1.33, 1.34]]),
  B(7, [[2, 0.13], [2.1, 0.3], [2.5, 0.45], [3, 0.58], [3.5, 0.67], [4, 0.75], [4.5, 0.83], [5, 0.9], [5.5, 0.98], [6, 1.03], [7, 1.08], [8, 1.12]]),
  B(8, [[7.56, 0.67, 0.67], [8, 0.55, 0.79]]),
  B(6, [[2.25, 0.13], [2.4, 0.21], [2.6, 0.22], [2.8, 0.17], [2.9, 0.3], [3, 0.25], [4, 0.2], [5, 0.17], [6, 0.16], [8, 0.18]]),
  B(6, [[-1.34, 0.62], [-1, 0.65], [-0.5, 0.7], [0, 0.76], [0.45, 0.83], [0.7, 0.3, 0.78], [0.9, 0.47, 0.75], [1.12, 0.53, 0.73], [1.15, 0.65, 0.74], [1.35, 0.67, 0.77], [1.38, 0.7, 0.78]]),
  B(5, [[-1.34, 0.25], [-1, 0.25], [-0.5, 0.29], [-0.2, 0.38], [0.1, 0.48], [0.4, 0.5], [0.55, 0.45], [0.6, 0.2, 0.3], [0.62, 0.24, 0.26]]),
  B(4, [[-0.4, 0.13], [0, 0.2], [0.2, 0.13]]),
  B(3, [[-0.2, 0.13], [0, 0.18], [0.15, 0.13]]),
  B(6, [[3, 0.36, 0.38], [3.3, 0.33, 0.4], [3.5, 0.38, 0.47], [3.6, 0.42, 0.45]]),
  B(6, [[3.6, 0.47, 0.52], [4, 0.5, 0.57], [4.3, 0.55, 0.62]]),
  B(6, [[4.4, 0.65, 0.67], [4.55, 0.64, 0.68], [4.7, 0.66, 0.67]]),
  B(10, [[6.6, 0.52, 0.53], [6.8, 0.52, 0.54], [7, 0.53, 0.53]]),
  B(9, [[0.56, 0.13, 0.13], [0.97, 0.13, 0.38], [1.45, 0.13, 0.61], [2.13, 0.14, 0.85], [2.54, 0.32, 0.94], [2.81, 0.45, 1.01], [3.22, 0.57, 1.08], [3.83, 0.71, 1.15], [4.17, 0.85, 1.18], [4.65, 0.92, 1.25], [4.86, 0.95, 1.27], [5.54, 1.09, 1.32], [6.02, 1.16, 1.36], [6.29, 1.2, 1.35], [6.3, 1.3, 1.35], [6.45, 1.33, 1.34]]),
  B(10, [[0.8, 0.13, 0.13], [1.17, 0.13, 0.34], [1.58, 0.13, 0.55], [1.99, 0.14, 0.66], [2.2, 0.26, 0.72], [2.6, 0.47, 0.79], [2.81, 0.52, 0.85], [3.22, 0.63, 0.94], [3.49, 0.65, 0.99], [3.77, 0.67, 1.03], [3.9, 0.85, 1.04], [4.17, 0.89, 1.05], [4.45, 0.93, 1.07], [4.58, 1.05, 1.08], [4.92, 1.07, 1.08]]),
  B(11, [[1.55, 0.26, 0.36], [1.65, 0.2, 0.45], [1.86, 0.14, 0.54], [1.99, 0.14, 0.56], [2.26, 0.38, 0.61], [2.81, 0.53, 0.69], [3.22, 0.67, 0.79]]),
  B(11, [[3.3, 0.79, 0.8], [3.5, 0.78, 0.81], [3.65, 0.79, 0.8]]),
];

const probeZ1: Band[] = [
  B(7, [[-1.06, 1.06], [1.06, 1.06]]),
  B(6, [[-1.06, 0.71], [-0.88, 0.64], [-0.8, 0.75], [-0.75, 0.71], [-0.7, 0.75]]),
  B(6, [[-0.7, 0.13, 0.75], [-0.52, 0.72, 0.86], [-0.26, 0.8, 0.95], [-0.1, 0.87, 0.88]]),
  B(6, [[0.72, 0.55], [0.88, 0.64], [0.98, 0.57], [1.06, 0.6]]),
  B(8, [[-0.7, 0.14], [-0.68, 0.44], [-0.52, 0.62], [-0.3, 0.75], [-0.05, 0.78], [0.2, 0.75], [0.4, 0.68], [0.6, 0.5], [0.68, 0.3], [0.72, 0.14]]),
  B(9, [[-0.6, 0.14], [-0.58, 0.44], [-0.4, 0.67], [-0.2, 0.7], [0.05, 0.72], [0.3, 0.69], [0.5, 0.55], [0.6, 0.35], [0.62, 0.14]]),
  B(7, [[-0.5, 0.13], [-0.46, 0.2], [-0.35, 0.16], [-0.3, 0.13]]),
  B(10, [[-0.32, 0.25, 0.38], [-0.25, 0.24, 0.44], [-0.18, 0.27, 0.42], [-0.13, 0.32, 0.33]]),
  B(10, [[-0.1, 0.52], [0, 0.6], [0.31, 0.6], [0.45, 0.55], [0.57, 0.48], [0.62, 0.25]]),
  B(11, [[0.43, 0.38, 0.43], [0.5, 0.32, 0.38], [0.53, 0.32, 0.34]]),
];

const probeZ2: Band[] = [
  B(8, [[-1.12, 1.73], [1.12, 1.73]]),
  B(7, [[-1.12, 1.37], [-0.9, 1.37], [-0.7, 1.42], [-0.4, 1.46], [-0.2, 1.44], [-0.12, 1.48], [0, 1.44], [0.2, 1.43], [0.4, 1.38], [0.55, 1.3], [0.7, 1.33], [0.85, 1.33], [0.95, 1.38], [1.12, 1.37]]),
  B(6, [[-1.12, 0.52], [-0.95, 0.72], [-0.84, 0.8], [-0.78, 0.85], [-0.74, 0.82], [-0.72, 0.4], [-0.68, 0.16], [-0.66, 0.13]]),
  B(6, [[0.66, 0.14], [0.89, 0.33], [1.12, 0.51]]),
  B(8, [[-0.68, 0.6, 0.61], [-0.62, 0.35, 0.78], [-0.55, 0.22, 0.92], [-0.42, 0.13, 1.02], [-0.09, 0.13, 1.14], [0.38, 0.13, 1.12], [0.43, 0.13, 1.09], [0.69, 0.33, 0.86], [0.78, 0.63, 0.63]]),
  B(7, [[-0.53, 0.25], [-0.45, 0.5], [-0.4, 0.61], [-0.27, 0.71], [-0.01, 0.75], [0.2, 0.67], [0.3, 0.4], [0.31, 0.14]]),
  B(9, [[-0.5, 0.69, 0.69], [-0.45, 0.65, 0.78], [-0.35, 0.73, 0.87], [-0.24, 0.76, 0.94], [-0.09, 0.78, 1], [0.12, 0.76, 1.02], [0.2, 0.73, 1.01], [0.38, 0.52, 0.96], [0.4, 0.27, 0.95], [0.48, 0.27, 0.9], [0.58, 0.29, 0.72], [0.65, 0.45, 0.56]]),
  B(10, [[0.22, 0.84, 0.84], [0.3, 0.72, 0.82], [0.4, 0.62, 0.78], [0.5, 0.56, 0.62]]),
  B(6, [[-0.3, 0.38, 0.42], [-0.2, 0.13, 0.58], [-0.04, 0.13, 0.65], [0.07, 0.13, 0.63], [0.14, 0.28, 0.58], [0.18, 0.38, 0.41]]),
];

const probeZ3: Band[] = [
  B(8, [[-1.12, 2.13], [1.12, 2.13]]),
  B(7, [[-1.12, 1.33], [-1.05, 1.43], [-0.95, 1.44], [-0.7, 1.55], [-0.5, 1.58], [-0.13, 1.63], [0.2, 1.59], [0.4, 1.53], [0.6, 1.45], [0.9, 1.38], [1.12, 1.35]]),
  B(8, [[-0.18, 1.19, 1.2], [-0.05, 1.15, 1.28], [0.04, 1.12, 1.31], [0.13, 1.05, 1.34], [0.3, 0.86, 1.3], [0.36, 0.6, 1.27], [0.4, 0.33, 1.24], [0.45, 0.34, 1.21], [0.61, 0.41, 1.1], [0.69, 0.5, 1.01], [0.76, 0.63, 0.7]]),
  B(6, [[-1.12, 0.48], [-1, 0.55], [-0.91, 0.8], [-0.83, 0.4], [-0.63, 0.2], [-0.42, 0.17], [-0.21, 0.33], [-0.14, 0.41], [-0.09, 0.25], [0.04, 0.14], [0.45, 0.13], [0.8, 0.3], [1.12, 0.45]]),
  B(6, [[-0.4, 0.68, 0.71], [-0.27, 0.5, 0.92], [-0.17, 0.42, 0.94], [-0.06, 0.4, 0.95], [0.09, 0.58, 0.82], [0.1, 0.6, 0.7]]),
];

function bandRows(pts: Pt[], base: number) {
  return pts.map((p) => (p.length === 2 ? { x: p[0], band: [base, p[1]], top: p[1] } : { x: p[0], band: [p[1], p[2]], top: p[2] }));
}

const lineColor = "rgba(50,70,0,0.6)";

type PlotProps = {
  left: number; right: number; top: number; bottom: number;
  domain: [number, number]; ticks: number[]; minor: number[];
  xName: string; bands: Band[]; curve?: "monotone" | "linear"; base?: number; grid?: boolean; gutter: number;
};

const tickStyle = { fontSize: 14.5, fill: "#222", fontFamily: "Liberation Sans" };
const nameStyle = { fontSize: 15, fontWeight: 700, fill: "#111", fontFamily: "Liberation Sans" };

// inward tecplot-style ticks, drawn by the axis at its own tick positions
const upTick = (len: number) => (p: any) => <line x1={p.x} x2={p.x} y1={p.y} y2={p.y - len} stroke="#333" strokeWidth={0.8} />;
const rightTick = (len: number) => (p: any) => <line x1={p.x} x2={p.x + len} y1={p.y} y2={p.y} stroke="#333" strokeWidth={0.8} />;

function ContourPlot({ left, right, top, bottom, domain, ticks, minor, xName, bands, curve = "monotone", base = 0, grid, gutter }: PlotProps) {
  return (
    <div style={{ position: "absolute", left: left - gutter, top: top - 10 }}>
      <AreaChart width={right - left + gutter + 10} height={bottom - top + 46} margin={{ top: 10, right: 10, bottom: 0, left: 0 }}>
        {grid && <CartesianGrid xAxisId={0} yAxisId={0} horizontalValues={yMinor} verticalValues={minor} stroke="#ececec" strokeWidth={0.7} />}
        {grid && <CartesianGrid xAxisId={0} yAxisId={0} horizontalValues={yTicks} verticalValues={ticks} stroke="#a8a8a8" strokeWidth={0.9} />}
        {bands.flatMap((b, i) => {
          const rows = bandRows(b.pts, base);
          const onFloor = b.pts.every((p) => p.length === 2);
          const edge = i === 0 || onFloor ? "none" : lineColor;
          const parts = [
            <Area key={i} data={rows} dataKey="band" type={curve} fill={bandColors[b.level]} fillOpacity={1} stroke={edge} strokeWidth={0.6} dot={false} activeDot={false} isAnimationActive={false} />,
          ];
          if (i > 0 && onFloor) {
            parts.push(<Area key={`${i}t`} data={rows} dataKey="top" type={curve} fill="none" stroke={lineColor} strokeWidth={0.6} dot={false} activeDot={false} isAnimationActive={false} />);
          }
          return parts;
        })}
        <XAxis
          dataKey="x" type="number" domain={domain} ticks={ticks} interval={0} allowDataOverflow height={36}
          axisLine={{ stroke: "#333" }} tickLine={false} tickSize={0} tickMargin={1} tick={tickStyle}
          label={{ value: xName, position: "insideBottom", offset: xName === "X/D" ? 14 : 7, style: nameStyle }}
        />
        <YAxis
          type="number" domain={[0, 2.5]} ticks={yTicks} interval={0} allowDataOverflow width={gutter}
          axisLine={{ stroke: "#333" }} tickLine={false} tickSize={0} tickMargin={6} tick={tickStyle}
          label={{ value: "Y/D", angle: -90, position: "insideLeft", offset: gutter - (xName === "X/D" ? 53 : 25), style: { ...nameStyle, textAnchor: "middle" } }}
        />
        <XAxis xAxisId="inMajor" dataKey="x" type="number" domain={domain} ticks={ticks} interval={0} height={0} axisLine={false} tickLine={false} tickSize={0} tickMargin={0} tick={upTick(5)} />
        <XAxis xAxisId="inMinor" dataKey="x" type="number" domain={domain} ticks={minor} interval={0} height={0} axisLine={false} tickLine={false} tickSize={0} tickMargin={0} tick={upTick(3)} />
        <YAxis yAxisId="inMajor" type="number" domain={[0, 2.5]} ticks={yTicks} interval={0} width={0} axisLine={false} tickLine={false} tickSize={0} tickMargin={0} tick={rightTick(5)} />
        <YAxis yAxisId="inMinor" type="number" domain={[0, 2.5]} ticks={yMinor} interval={0} width={0} axisLine={false} tickLine={false} tickSize={0} tickMargin={0} tick={rightTick(3)} />
        <ReferenceArea x1={domain[0]} x2={domain[1]} y1={0} y2={2.5} fill="none" stroke="#444" strokeWidth={1} />
      </AreaChart>
    </div>
  );
}

type LegendProps = {
  box: [number, number, number, number]; bar: [number, number]; barY: [number, number];
  title: string; titleLeft: number; labelY: number; levels: number[]; fontSize: number;
};

function ColorLegend({ box, bar, barY, title, titleLeft, labelY, levels, fontSize }: LegendProps) {
  const [bl, bt, br, bb] = box;
  const step = levels[1] - levels[0];
  const last = levels[levels.length - 1];
  const edges = [-step / 2, ...levels, last + step / 2];
  return (
    <div style={{ position: "absolute", left: bl, top: bt, width: br - bl, height: bb - bt, background: "#fff", boxShadow: "0 0 0 1px #d4d4d4" }}>
      <AreaChart
        width={br - bl}
        height={bb - bt}
        margin={{ top: barY[0] - bt, left: bar[0] - bl, right: br - bar[1], bottom: 0 }}
      >
        {edges.slice(0, -1).map((e, i) => (
          <Area key={i} data={[{ x: e, band: [0, 1] }, { x: edges[i + 1], band: [0, 1] }]} dataKey="band" type="linear" fill={bandColors[i]} fillOpacity={1} stroke="none" dot={false} activeDot={false} isAnimationActive={false} />
        ))}
        <XAxis
          type="number" dataKey="x" domain={[edges[0], edges[edges.length - 1]]} ticks={levels} interval={0} height={bb - barY[1]}
          axisLine={false} tickLine={false} tickSize={0} tickMargin={labelY - barY[1] - fontSize * 0.6 + 2.5}
          tick={{ fontSize, fill: "#222", fontFamily: "Liberation Sans" }}
        />
        <YAxis type="number" domain={[0, 1]} hide />
      </AreaChart>
      <span style={{ position: "absolute", left: titleLeft - bl, top: labelY - bt - fontSize * 0.6, fontSize, lineHeight: `${fontSize * 1.2}px`, color: "#222", fontFamily: "Liberation Sans" }}>{title}</span>
    </div>
  );
}

function Rule({ x, y, w, h }: { x: number; y: number; w: number; h: number }) {
  return <div style={{ position: "absolute", left: x, top: y, width: w, height: h, background: "#dcdcdc" }} />;
}

function Caption({ cx, y, text }: { cx: number; y: number; text: string }) {
  return (
    <div style={{ position: "absolute", left: cx - 150, top: y - 14, width: 300, textAlign: "center", fontFamily: "Liberation Serif", fontSize: 22, letterSpacing: 0.5, lineHeight: "28px", color: "#222", whiteSpace: "pre" }}>
      {text}
    </div>
  );
}

function Group({ x0, side, mainTop, mainBottom, subTop, subBottom, main, subs, curve, base, grid }: {
  x0: number; side: number[][]; mainTop: number; mainBottom: number; subTop: number; subBottom: number;
  main: Band[]; subs: Band[][]; curve?: "monotone" | "linear"; base?: number; grid?: boolean;
}) {
  return (
    <>
      <ContourPlot left={x0} right={x0 + 681.5} top={mainTop} bottom={mainBottom} domain={[-1.34, 8]} ticks={xTicks} minor={xMinor} xName="X/D" bands={main} curve={curve} base={base} gutter={62} />
      {subs.map((bands, i) => (
        <ContourPlot key={i} left={side[i][0]} right={side[i][1]} top={subTop} bottom={subBottom} domain={[-1.12, 1.12]} ticks={zTicks} minor={zMinor} xName="Z/D" bands={bands} curve={curve} base={base} grid={grid} gutter={36} />
      ))}
    </>
  );
}

const leftSides = [[41.8, 259], [308.5, 525.4], [575.6, 792]];
const rightSides = [[850.7, 1068], [1117.9, 1334.8], [1384.5, 1601.6]];

export default function App() {
  return (
    <div style={{ position: "absolute", left: 0, top: 0, width: 1611, height: 1198, background: "#fff", overflow: "hidden" }}>
      <Rule x={6} y={6} w={1} h={534} />
      <Rule x={6} y={539} w={800} h={1} />
      <Rule x={806} y={6} w={1} h={534} />
      <Rule x={815} y={539} w={796} h={1} />
      <Rule x={6} y={624} w={1} h={533} />
      <Rule x={6} y={1157} w={800} h={1} />
      <Rule x={806} y={624} w={1} h={533} />

      <Group x0={77} side={leftSides} mainTop={38} mainBottom={248.4} subTop={293} subBottom={512.3} main={fullMain} subs={[fullZ1, fullZ2, fullZ3]} />
      <Group x0={885.5} side={rightSides} mainTop={38} mainBottom={248.4} subTop={293} subBottom={512.3} main={tunnelMain} subs={[tunnelZ1, tunnelZ2, tunnelZ3]} />
      <Group x0={77} side={leftSides} mainTop={655} mainBottom={866.5} subTop={910.7} subBottom={1130.3} main={tubeMain} subs={[tubeZ1, tubeZ2, tubeZ3]} />
      <Group x0={885.5} side={rightSides} mainTop={657} mainBottom={868} subTop={912.3} subBottom={1132.3} main={probeMain} subs={[probeZ1, probeZ2, probeZ3]} curve="linear" base={0.13} grid />

      <ColorLegend box={[133, 25.5, 682.5, 81.7]} bar={[216.4, 665.7]} barY={[30, 56.7]} title="U/Uinf:" titleLeft={155} labelY={72.3} levels={uLevels} fontSize={16} />
      <ColorLegend box={[983, 35.3, 1447.7, 83.3]} bar={[1053.7, 1433]} barY={[40, 61.7]} title="U/Uinf:" titleLeft={1001.4} labelY={75} levels={uLevels} fontSize={14} />
      <ColorLegend box={[174, 653, 639, 701]} bar={[244.8, 623.9]} barY={[657.7, 680]} title="U/Uinf:" titleLeft={192.5} labelY={692} levels={uLevels} fontSize={14} />
      <ColorLegend box={[965, 655, 1465.6, 703]} bar={[1072, 1451.7]} barY={[659, 681.7]} title="UMean/Uinf:" titleLeft={983} labelY={695} levels={meanLevels} fontSize={14} />

      <Caption cx={406} y={563} text="(a)  Full-SEM" />
      <Caption cx={1215} y={563} text="(b)  Tunnel-SEM" />
      <Caption cx={407} y={1182} text="(c)  Tube-SEM" />
      <Caption cx={1215} y={1182} text="(d)  U-V Probe" />
    </div>
  );
}
